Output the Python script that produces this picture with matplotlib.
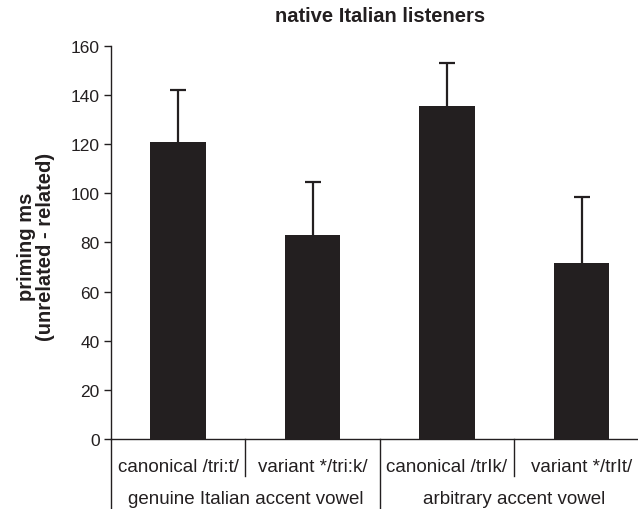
import matplotlib
matplotlib.use("Agg")
import matplotlib.pyplot as plt

plt.rcParams['font.family'] = ['Liberation Sans', 'DejaVu Sans']

conditions = ["canonical /tri:t/", "variant */tri:k/", "canonical /trIk/", "variant */trIt/"]
groups = ["genuine Italian accent vowel", "arbitrary accent vowel"]
priming = [121, 83, 135.5, 71.5]
error_up = [21, 21.5, 17.5, 27]
yticks = [0, 20, 40, 60, 80, 100, 120, 140, 160]

W, H = 638, 510
fig = plt.figure(figsize=(W / 100, H / 100), dpi=100)
ax = fig.add_axes([110.75 / W, (H - 440) / H, 538 / W, 393 / H])

ink = "#231f20"
x = list(range(len(priming)))
ax.bar(x, priming, width=0.416, color=ink, zorder=2)
eb = ax.errorbar(x, priming, yerr=[[0] * len(priming), error_up], fmt="none",
                 ecolor=ink, elinewidth=1.6, capsize=5.5, capthick=1.6, zorder=3)
# one-sided bars: hide the caps sitting on the bar tops
eb[1][0].set_visible(False)

ax.set_xlim(-0.5, 3.5)
ax.set_ylim(0, 160)
ax.set_yticks(yticks)
ax.set_yticklabels([str(t) for t in yticks], fontsize=12.5, color=ink)
ax.tick_params(axis="y", direction="out", length=5, width=1, color=ink, pad=3)
ax.set_xticks([])
for side in ("top", "right"):
    ax.spines[side].set_visible(False)
for side in ("left", "bottom"):
    ax.spines[side].set_color(ink)
    ax.spines[side].set_linewidth(1)

# category table below the axis
tr = ax.get_xaxis_transform()
y_row1 = -0.069
y_row2 = -0.151
for i, lab in enumerate(conditions):
    ax.text(i, y_row1, lab, transform=tr, ha="center", va="center",
            fontsize=13.5, color=ink, clip_on=False)
for j, lab in enumerate(groups):
    ax.text(2 * j + 0.5, y_row2, lab, transform=tr, ha="center", va="center",
            fontsize=13.5, color=ink, clip_on=False)
# dividers: short between conditions, long between groups
for xb in (0.5, 2.5):
    ax.plot([xb, xb], [0, -0.094], transform=tr, color=ink, lw=1, clip_on=False)
for xb in (-0.5, 1.5):
    ax.plot([xb, xb], [0, -0.2], transform=tr, color=ink, lw=1, clip_on=False)

fig.text(380 / W, 1 - 17 / H, "native Italian listeners", ha="center", va="center",
         fontsize=14.5, fontweight="bold", color=ink)
fig.text(36 / W, 1 - 247 / H, "priming ms\n(unrelated - related)", rotation=90,
         ha="center", va="center", multialignment="center",
         fontsize=14.5, fontweight="bold", color=ink, linespacing=1.0)

fig.savefig("out.png", dpi=100)
